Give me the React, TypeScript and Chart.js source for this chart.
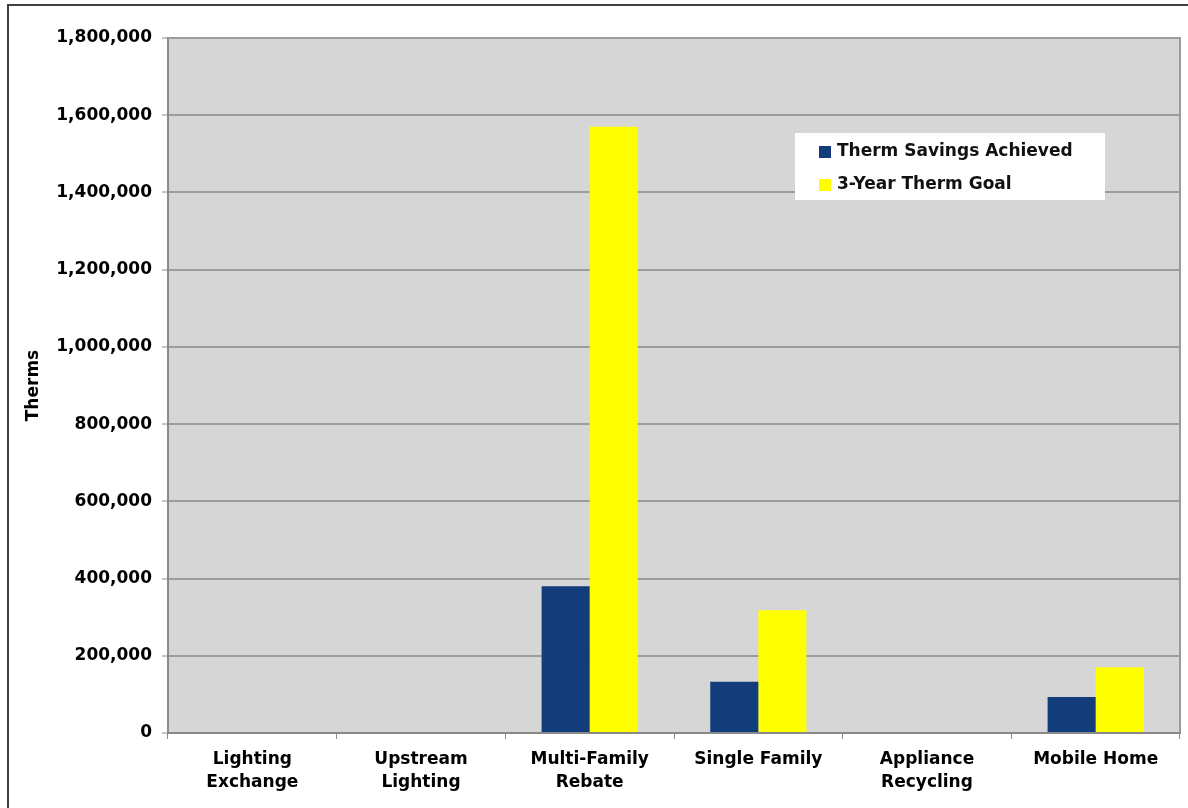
import React, { useEffect, useRef } from "react";
import { Chart, registerables } from "chart.js";

Chart.register(...registerables);

// Program categories (two-line labels where the text wraps)
const categories: (string | string[])[] = [
  ["Lighting", "Exchange"],
  ["Upstream", "Lighting"],
  ["Multi-Family", "Rebate"],
  "Single Family",
  ["Appliance", "Recycling"],
  "Mobile Home",
];

// Therms per program
const savingsAchieved = [0, 0, 380000, 133000, 0, 93000];
const threeYearGoal = [0, 0, 1570000, 318000, 0, 170000];

const seriesNames = ["Therm Savings Achieved", "3-Year Therm Goal"];
const seriesColors = ["#133d7a", "#ffff00"];

const yTicks = { min: 0, max: 1800000, step: 200000 };

const FONT = "'DejaVu Sans', Verdana, sans-serif";

// Gray plot background and the outer frame line
const framePlugin = {
  id: "frame",
  beforeDraw(chart: any) {
    const { ctx, chartArea: a } = chart;
    ctx.save();
    ctx.fillStyle = "#d6d6d6";
    ctx.fillRect(a.left, a.top, a.right - a.left, a.bottom - a.top);
    ctx.strokeStyle = "#404040";
    ctx.lineWidth = 2;
    ctx.beginPath();
    ctx.moveTo(8, chart.height);
    ctx.lineTo(8, 5);
    ctx.lineTo(chart.width, 5);
    ctx.stroke();
    ctx.restore();
  },
  afterDatasetsDraw(chart: any) {
    const { ctx, chartArea: a } = chart;
    ctx.save();
    ctx.strokeStyle = "#9a9a9a";
    ctx.lineWidth = 2;
    ctx.beginPath();
    ctx.moveTo(a.left, a.top);
    ctx.lineTo(a.right, a.top);
    ctx.lineTo(a.right, a.bottom);
    ctx.stroke();
    ctx.restore();
  },
};

// Legend box drawn inside the plot area
const insideLegendPlugin = {
  id: "insideLegend",
  afterDraw(chart: any) {
    const { ctx, chartArea: a } = chart;
    const boxX = a.left + 627;
    const boxY = a.top + 95;
    const boxW = 310;
    const boxH = 67;
    ctx.save();
    ctx.fillStyle = "#ffffff";
    ctx.fillRect(boxX, boxY, boxW, boxH);
    ctx.font = `bold 17px ${FONT}`;
    ctx.textBaseline = "middle";
    ctx.textAlign = "left";
    chart.data.datasets.forEach((ds: any, i: number) => {
      const cy = boxY + 19 + i * 33;
      ctx.fillStyle = ds.backgroundColor;
      ctx.fillRect(boxX + 24, cy - 6, 12, 12);
      ctx.fillStyle = "#111111";
      ctx.fillText(ds.label, boxX + 42, cy);
    });
    ctx.restore();
  },
};

export default function App() {
  const canvasRef = useRef<HTMLCanvasElement>(null);

  useEffect(() => {
    if (!canvasRef.current) return;
    const chart = new Chart(canvasRef.current, {
      type: "bar",
      data: {
        labels: categories,
        datasets: [
          {
            label: seriesNames[0],
            data: savingsAchieved,
            backgroundColor: seriesColors[0],
            borderWidth: 0,
          },
          {
            label: seriesNames[1],
            data: threeYearGoal,
            backgroundColor: seriesColors[1],
            borderWidth: 0,
          },
        ],
      },
      options: {
        animation: false,
        responsive: true,
        maintainAspectRatio: false,
        layout: { padding: { top: 38, right: 8, bottom: 0, left: 0 } },
        datasets: {
          bar: { categoryPercentage: 0.57, barPercentage: 1 },
        },
        plugins: {
          legend: { display: false },
          tooltip: { enabled: false },
        },
        scales: {
          x: {
            afterFit: (scale: any) => {
              scale.height = 75;
            },
            grid: {
              display: true,
              drawOnChartArea: false,
              drawTicks: true,
              tickLength: 6,
              offset: true,
              color: "#8a8a8a",
            },
            border: { display: true, color: "#8a8a8a", width: 2 },
            ticks: {
              color: "#000000",
              padding: 9,
              maxRotation: 0,
              autoSkip: false,
              font: { family: FONT, size: 17, weight: "bold", lineHeight: 1.35 },
            },
          },
          y: {
            min: yTicks.min,
            max: yTicks.max,
            afterFit: (scale: any) => {
              scale.width = 168;
            },
            grid: {
              color: "#9c9c9c",
              lineWidth: 2,
              tickLength: 6,
              tickColor: "#8a8a8a",
              tickWidth: 1,
            },
            border: { display: true, color: "#8a8a8a", width: 2 },
            ticks: {
              stepSize: yTicks.step,
              color: "#000000",
              padding: 10,
              font: { family: FONT, size: 17, weight: "bold" },
              callback: (v: any) => Number(v).toLocaleString("en-US"),
            },
            title: {
              display: true,
              text: "Therms",
              color: "#000000",
              padding: { top: 23, bottom: 0 },
              font: { family: FONT, size: 17, weight: "bold", lineHeight: 1.2 },
            },
          },
        },
      },
      plugins: [framePlugin, insideLegendPlugin],
    });
    return () => chart.destroy();
  }, []);

  return (
    <div
      style={{
        position: "fixed",
        left: 0,
        top: 0,
        width: 1188,
        height: 808,
        background: "#ffffff",
      }}
    >
      <canvas ref={canvasRef} />
    </div>
  );
}
